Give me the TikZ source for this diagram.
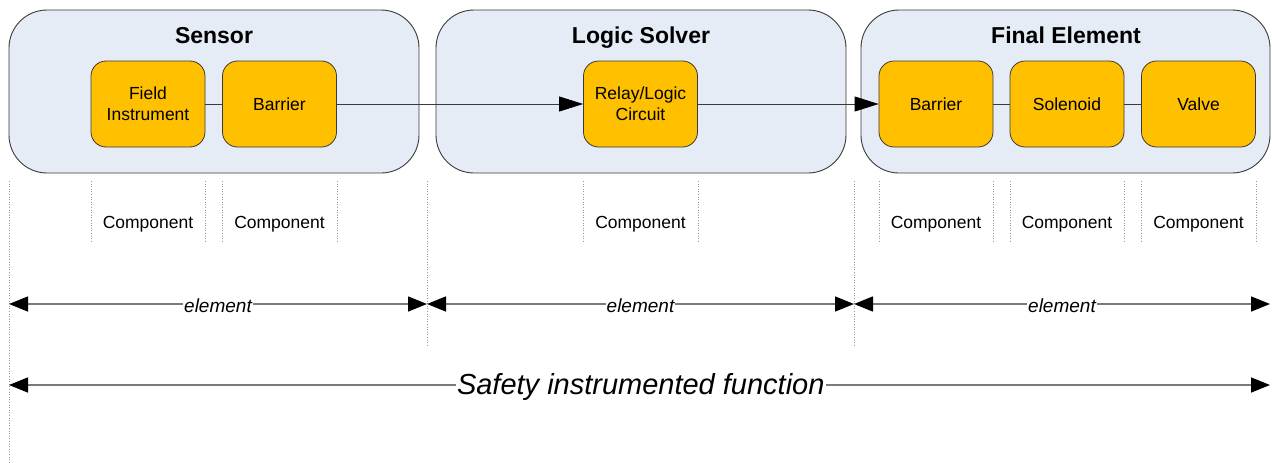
\documentclass[tikz,border=0pt]{standalone}
\usepackage{fontspec}
\setmainfont{Liberation Sans}
\usetikzlibrary{arrows.meta}
\definecolor{boxblue}{HTML}{E6ECF6}
\definecolor{compfill}{HTML}{FFC000}
\definecolor{edge}{HTML}{3A3A3A}
\definecolor{dimgray}{HTML}{7A7A7A}
\tikzset{
  bigbox/.style={draw=edge, line width=0.9pt, fill=boxblue, rounded corners=38pt, minimum width=410pt, minimum height=163pt, inner sep=0pt},
  compbox/.style={draw=edge, line width=0.8pt, fill=compfill, rounded corners=15pt, minimum width=114pt, minimum height=86pt, align=center, font=\fontsize{17.5}{21}\selectfont, inner sep=0pt},
  titletext/.style={anchor=base, font=\bfseries\fontsize{23}{27}\selectfont},
  comptext/.style={anchor=base, font=\fontsize{17.5}{20}\selectfont},
  sep/.style={draw=gray!80, dotted, line width=0.6pt},
  flow/.style={draw=edge, line width=0.8pt, -{Triangle[length=24pt,width=15pt,color=black]}},
  link/.style={draw=edge, line width=0.8pt},
  dimline/.style={draw=dimgray, line width=1.5pt, {Triangle[length=19pt,width=15pt,color=black]}-{Triangle[length=19pt,width=15pt,color=black]}},
  elemlbl/.style={fill=white, inner sep=1pt, yshift=-1.5pt, font=\itshape\fontsize{19}{22}\selectfont},
  siflbl/.style={fill=white, inner sep=1pt, yshift=-2pt, font=\itshape\fontsize{29}{34}\selectfont}
}
\begin{document}
\begin{tikzpicture}[x=1pt,y=-1pt]
\useasboundingbox (0,0) rectangle (1272,463);
% element boxes
\node[bigbox] (sensor) at (214,91.5) {};
\node[bigbox] (logic) at (641,91.5) {};
\node[bigbox, minimum width=409pt] (final) at (1065.5,91.5) {};
\node[titletext] (tsensor) at (214,43) {Sensor};
\node[titletext] (tlogic) at (641,43) {Logic Solver};
\node[titletext] (tfinal) at (1066,43) {Final Element};
% components
\node[compbox] (field) at (148,104) {Field\\Instrument};
\node[compbox] (sbar) at (279.5,104) {Barrier};
\node[compbox] (relay) at (640.5,104) {Relay/Logic\\Circuit};
\node[compbox] (fbar) at (936,104) {Barrier};
\node[compbox] (sol) at (1067,104) {Solenoid};
\node[compbox] (valve) at (1198.5,104) {Valve};
% connections
\draw[link] (field.east) -- (sbar.west);
\draw[flow] (sbar.east) -- (relay.west);
\draw[flow] (relay.east) -- (fbar.west);
\draw[link] (fbar.east) -- (sol.west);
\draw[link] (sol.east) -- (valve.west);
% component separators
\foreach \x [count=\i] in {91,205,222,337,583,698,879,993,1010,1124,1141,1256}{
  \coordinate (ct\i) at (\x,181);
  \coordinate (cb\i) at (\x,242);
  \draw[sep] (ct\i) -- (cb\i);
}
% element separators
\coordinate (s1t) at (9,181);   \coordinate (s1b) at (9,463);
\coordinate (s2t) at (427,181); \coordinate (s2b) at (427,345);
\coordinate (s3t) at (854,181); \coordinate (s3b) at (854,345);
\draw[sep] (s1t) -- (s1b);
\draw[sep] (s2t) -- (s2b);
\draw[sep] (s3t) -- (s3b);
% component labels
\node[comptext] (c1) at (148,228) {Component};
\node[comptext] (c2) at (279.5,228) {Component};
\node[comptext] (c3) at (640.5,228) {Component};
\node[comptext] (c4) at (936,228) {Component};
\node[comptext] (c5) at (1067,228) {Component};
\node[comptext] (c6) at (1198.5,228) {Component};
% element dimension arrows
\coordinate (e0) at (9,304);
\coordinate (e1) at (427,304);
\coordinate (e2) at (854,304);
\coordinate (e3) at (1270,304);
\draw[dimline] (e0) -- node[elemlbl] (el1) {element} (e1);
\draw[dimline] (e1) -- node[elemlbl] (el2) {element} (e2);
\draw[dimline] (e2) -- node[elemlbl] (el3) {element} (e3);
% SIF arrow
\coordinate (f0) at (9,385);
\coordinate (f1) at (1270,385);
\draw[dimline] (f0) -- node[siflbl, pos=0.501] (sif) {Safety instrumented function} (f1);
\end{tikzpicture}
\end{document}
